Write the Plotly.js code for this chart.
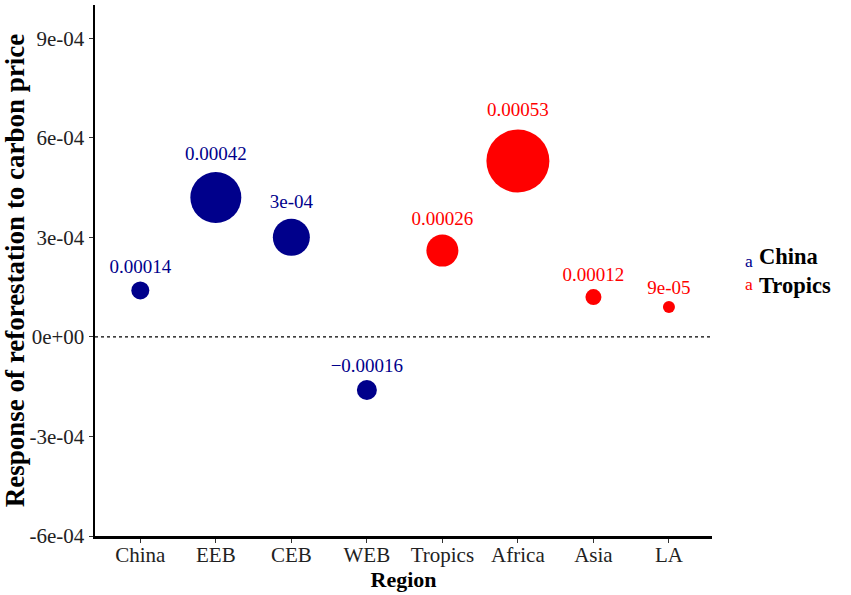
<!DOCTYPE html>
<html>
<head>
<meta charset="utf-8">
<script src="https://cdn.plot.ly/plotly-3.0.1.min.js"></script>
<style>
  html, body { margin: 0; padding: 0; background: #fff; }
  #chart { width: 851px; height: 595px; }
</style>
</head>
<body>
<div id="chart"></div>
<script>
// regions and group
const regions = ['China', 'EEB', 'CEB', 'WEB', 'Tropics', 'Africa', 'Asia', 'LA'];
const groups = ['China', 'China', 'China', 'China', 'Tropics', 'Tropics', 'Tropics', 'Tropics'];
const response = [0.00014, 0.00042, 0.0003, -0.00016, 0.00026, 0.00053, 0.00012, 0.00009];
const labels = ['0.00014', '0.00042', '3e-04', '\u22120.00016', '0.00026', '0.00053', '0.00012', '9e-05'];
// bubble weight
const weight = [18, 51, 37, 20, 32, 63, 16, 12];

const yTicks = [-0.0006, -0.0003, 0, 0.0003, 0.0006, 0.0009];
const yTickText = ['-6e-04', '-3e-04', '0e+00', '3e-04', '6e-04', '9e-04'];

const groupNames = ['China', 'Tropics'];
const groupColor = { China: '#00008B', Tropics: '#FF0000' };
const serif = "'Liberation Serif', 'Times New Roman', serif";

const traces = groupNames.map(g => {
  const idx = regions.map((r, i) => i).filter(i => groups[i] === g);
  return {
    type: 'scatter',
    mode: 'markers+text',
    name: g,
    x: idx.map(i => regions[i]),
    y: idx.map(i => response[i]),
    text: idx.map(i => labels[i]),
    textposition: 'top center',
    textfont: { family: serif, size: 19, color: groupColor[g] },
    marker: { size: idx.map(i => weight[i]), color: groupColor[g], opacity: 1, line: { width: 0 } },
    cliponaxis: false,
    showlegend: false,
    hoverinfo: 'x+y'
  };
});

// hand-made legend: coloured "a" key + bold group name
const legendAnn = [
  {
    xref: 'paper', yref: 'paper', x: 1.05, y: 0.497,
    xanchor: 'left', yanchor: 'middle', showarrow: false, align: 'left',
    text: groupNames.map(g => '<span style="color:' + groupColor[g] + '">a</span>').join('<br>'),
    font: { family: serif, size: 17.5, color: '#000' }
  },
  {
    xref: 'paper', yref: 'paper', x: 1.073, y: 0.5,
    xanchor: 'left', yanchor: 'middle', showarrow: false, align: 'left',
    text: groupNames.map(g => '<b>' + g + '</b>').join('<br>'),
    font: { family: serif, size: 22.5, color: '#000' }
  }
];

const layout = {
  width: 851, height: 595,
  margin: { l: 95, r: 139, t: 5, b: 59 },
  paper_bgcolor: '#fff', plot_bgcolor: '#fff',
  font: { family: serif, color: '#000' },
  showlegend: false,
  xaxis: {
    type: 'category',
    categoryorder: 'array', categoryarray: regions,
    range: [-0.6, 7.57],
    showline: true, linecolor: '#000', linewidth: 2.5,
    ticks: 'outside', ticklen: 4, tickcolor: '#333', tickwidth: 1,
    ticklabelstandoff: -6,
    showgrid: false, zeroline: false,
    tickfont: { family: serif, size: 21, color: '#222' },
    title: { text: '<b>Region</b>', font: { family: serif, size: 22, color: '#000' }, standoff: 0 }
  },
  yaxis: {
    range: [-0.0006, 0.001],
    tickvals: yTicks, ticktext: yTickText,
    showline: true, linecolor: '#000', linewidth: 2.5,
    ticks: 'outside', ticklen: 4, tickcolor: '#333', tickwidth: 1,
    showgrid: false, zeroline: false,
    tickfont: { family: serif, size: 21, color: '#222' },
    title: { text: '<b>Response of reforestation to carbon price</b>', font: { family: serif, size: 27, color: '#000' }, standoff: 1 }
  },
  shapes: [{
    type: 'line', xref: 'paper', yref: 'y', x0: 0, x1: 1, y0: 0, y1: 0,
    line: { color: '#000', width: 1.2, dash: 'dot' }, layer: 'below'
  }],
  annotations: legendAnn
};

Plotly.newPlot('chart', traces, layout, { displayModeBar: false, staticPlot: true });
</script>
</body>
</html>
